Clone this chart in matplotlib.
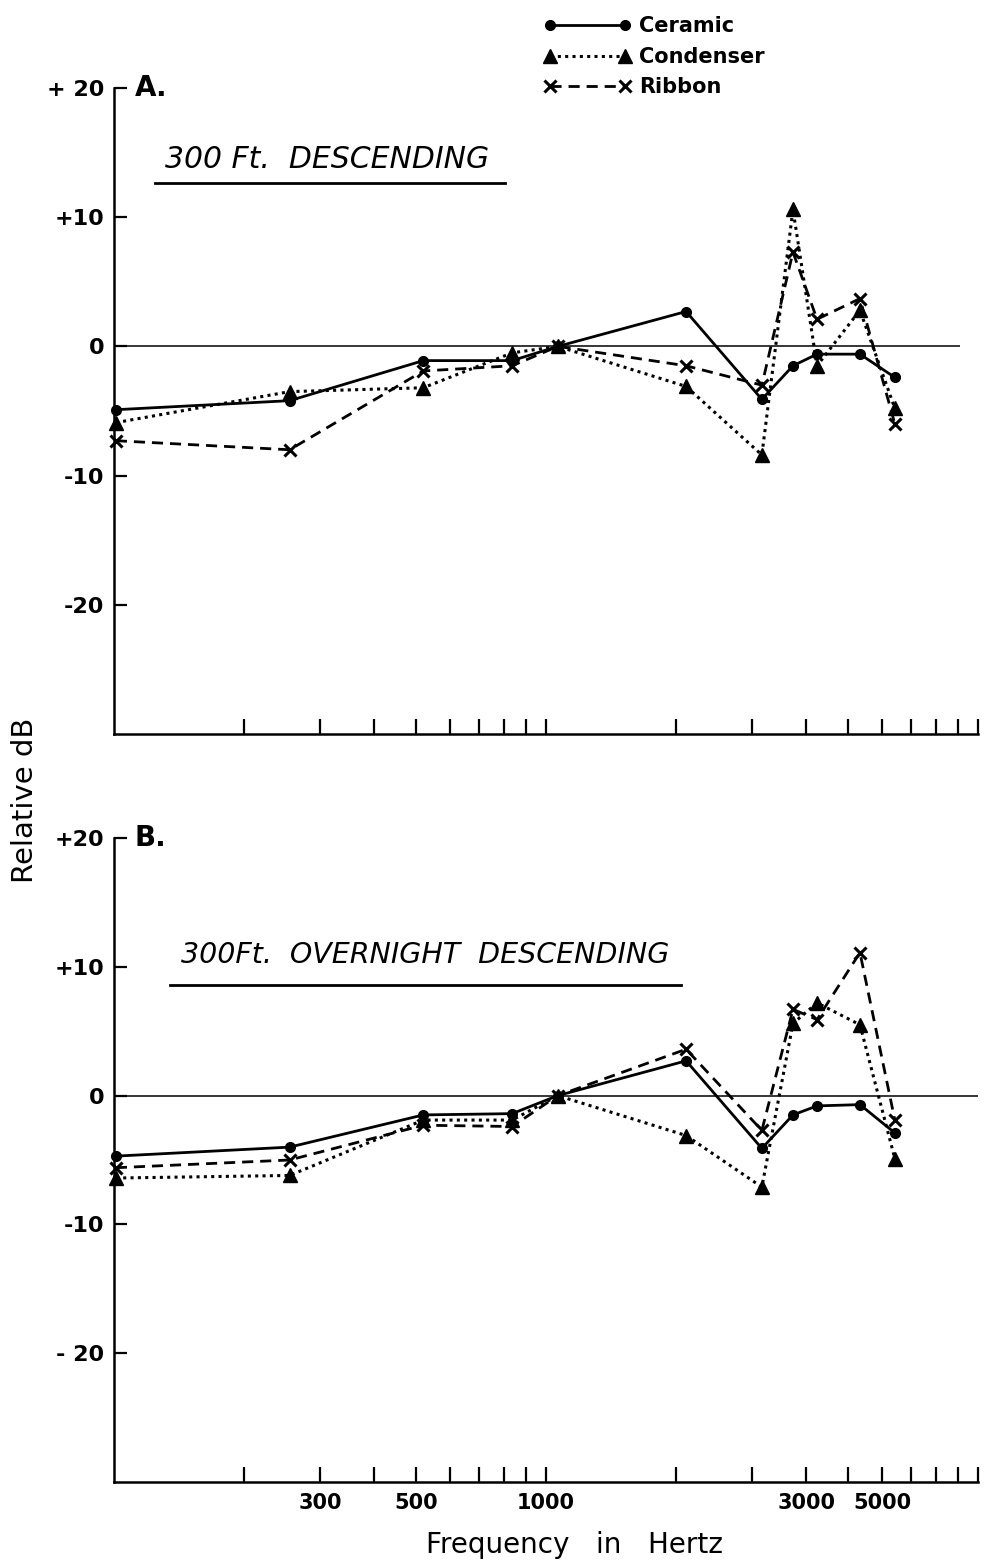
import matplotlib
matplotlib.use("Agg")
import matplotlib.pyplot as plt
from matplotlib.ticker import FixedLocator, FixedFormatter, NullFormatter

freqs = [101, 255, 520, 835, 1065, 2110, 3160, 3730, 4240, 5330, 6420]

# A. 300 ft descending
ceramic_a = [-4.9, -4.2, -1.1, -1.1, 0.0, 2.7, -4.1, -1.5, -0.6, -0.6, -2.4]
condenser_a = [-5.9, -3.5, -3.2, -0.5, 0.0, -3.1, -8.4, 10.6, -1.5, 2.8, -4.8]
ribbon_a = [-7.3, -8.0, -1.9, -1.5, 0.0, -1.5, -3.0, 7.3, 2.1, 3.7, -6.0]

# B. 300 ft overnight descending
ceramic_b = [-4.7, -4.0, -1.5, -1.4, 0.0, 2.7, -4.1, -1.5, -0.8, -0.7, -2.9]
condenser_b = [-6.4, -6.2, -1.9, -1.9, 0.0, -3.1, -7.1, 5.6, 7.2, 5.5, -4.9]
ribbon_b = [-5.6, -5.0, -2.3, -2.4, 0.0, 3.6, -2.7, 6.7, 5.9, 11.1, -1.9]

tick_freqs = [200, 300, 400, 500, 600, 700, 800, 900, 1000,
              2000, 3000, 4000, 5000, 6000, 7000, 8000, 9000, 10000]
# labels sit where the original printed them
tick_text = ['', '300', '', '500', '', '', '', '', '1000',
             '', '', '3000', '', '5000', '', '', '', '']
y_ticks = [20, 10, 0, -10, -20]
y_text_a = ['+ 20', '+10', '0', '-10', '-20']
y_text_b = ['+20', '+10', '0', '-10', '- 20']

plt.rcParams['font.family'] = ['DejaVu Sans']

W, H = 985, 1564
fig = plt.figure(figsize=(W / 100, H / 100), dpi=100)

ax_a = fig.add_axes([114 / W, 1 - 734 / H, 864 / W, 646 / H])
ax_b = fig.add_axes([114 / W, 1 - 1482 / H, 864 / W, 644 / H])


def style(ax, ytext, show_x):
    ax.set_xscale('log')
    ax.set_xlim(100, 10000)
    ax.set_ylim(-30, 20)
    for s in ['top', 'right']:
        ax.spines[s].set_visible(False)
    for s in ['left', 'bottom']:
        ax.spines[s].set_linewidth(1.8)
    ax.xaxis.set_major_locator(FixedLocator(tick_freqs))
    ax.xaxis.set_minor_locator(FixedLocator([]))
    if show_x:
        ax.xaxis.set_major_formatter(FixedFormatter(tick_text))
    else:
        ax.xaxis.set_major_formatter(NullFormatter())
    ax.set_yticks(y_ticks)
    ax.set_yticklabels(ytext)
    ax.tick_params(axis='x', direction='in', length=11, width=1.6,
                   pad=8, labelsize=15)
    ax.tick_params(axis='y', direction='in', length=9, width=1.6,
                   pad=7, labelsize=16)
    for t in ax.get_xticklabels() + ax.get_yticklabels():
        t.set_fontweight('bold')


def draw(ax, cer, con, rib, zero_end):
    ax.hlines(0, 100, zero_end, color='black', lw=1.1)
    ax.plot(freqs, cer, color='black', lw=2.0, ls='-', marker='o',
            ms=7, clip_on=False, label='Ceramic')
    ax.plot(freqs, con, color='black', lw=2.2, ls=(0, (1, 1.4)),
            marker='^', ms=10, clip_on=False, label='Condenser')
    ax.plot(freqs, rib, color='black', lw=2.0, ls=(0, (4, 2.5)),
            marker='x', ms=9, mew=2.2, clip_on=False, label='Ribbon')


style(ax_a, y_text_a, False)
style(ax_b, y_text_b, True)
draw(ax_a, ceramic_a, condenser_a, ribbon_a, 9100)
draw(ax_b, ceramic_b, condenser_b, ribbon_b, 10000)

# panel letters
ax_a.text(0.024, 1.0, 'A.', transform=ax_a.transAxes, fontsize=20,
          fontweight='bold', va='center', ha='left')
ax_b.text(0.024, 1.0, 'B.', transform=ax_b.transAxes, fontsize=20,
          fontweight='bold', va='center', ha='left')

# underlined condition titles
ax_a.text(0.059, 0.889, '300 Ft.  DESCENDING', transform=ax_a.transAxes,
          fontsize=21.5, style='italic', va='center', ha='left')
ax_a.plot([0.047, 0.453], [0.853, 0.853], transform=ax_a.transAxes,
          color='black', lw=2.0, clip_on=False)
ax_b.text(0.0775, 0.818, '300Ft.  OVERNIGHT  DESCENDING',
          transform=ax_b.transAxes, fontsize=20.5, style='italic',
          va='center', ha='left')
ax_b.plot([0.065, 0.656], [0.772, 0.772], transform=ax_b.transAxes,
          color='black', lw=2.0, clip_on=False)

# legend at the top
handles, labels = ax_a.get_legend_handles_labels()
fig.legend(handles, labels, loc='upper left',
           bbox_to_anchor=(533 / W, 1 - 6 / H), frameon=False,
           numpoints=2, handlelength=4.2, handletextpad=0.4,
           labelspacing=0.5, borderpad=0,
           prop={'size': 15, 'weight': 'bold'})

fig.text(25 / W, 1 - 800 / H, 'Relative dB', rotation=90, fontsize=21,
         ha='center', va='center')
fig.text(575 / W, 1 - 1545 / H, 'Frequency   in   Hertz', fontsize=20,
         ha='center', va='center')

fig.savefig('out.png', dpi=100)
